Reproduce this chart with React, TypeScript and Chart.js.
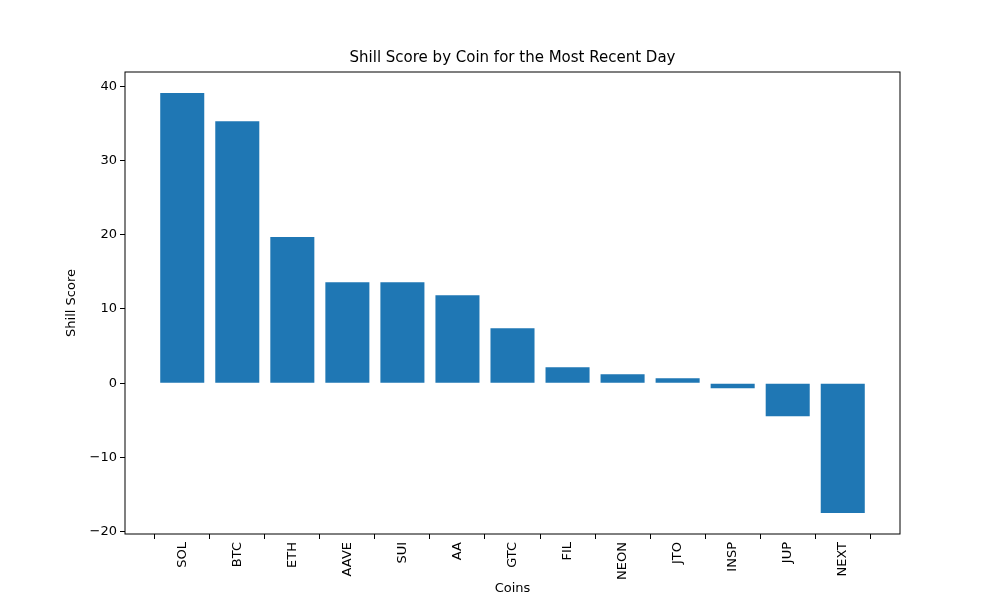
import { useEffect, useRef } from "react"
import { Chart, registerables } from "chart.js"

Chart.register(...registerables)

const coins = ["SOL", "BTC", "ETH", "AAVE", "SUI", "AA", "GTC", "FIL", "NEON", "JTO", "INSP", "JUP", "NEXT"]
const scores = [39.1, 35.3, 19.7, 13.6, 13.6, 11.85, 7.4, 2.15, 1.2, 0.65, -0.7, -4.45, -17.5]
const yTicks = [-20, -10, 0, 10, 20, 30, 40]

const FONT = "'DejaVu Sans', sans-serif"

const frame = {
  id: "frame",
  afterDraw(chart: any) {
    const { ctx, chartArea: a } = chart
    ctx.save()
    ctx.strokeStyle = "#000"
    ctx.lineWidth = 1
    ctx.strokeRect(a.left, a.top, a.right - a.left, a.bottom - a.top)
    ctx.fillStyle = "#000"
    ctx.font = `15px ${FONT}`
    ctx.textAlign = "center"
    ctx.textBaseline = "bottom"
    ctx.fillText("Shill Score by Coin for the Most Recent Day", (a.left + a.right) / 2, a.top - 6)
    ctx.font = `13px ${FONT}`
    ctx.translate(72, (a.top + a.bottom) / 2)
    ctx.rotate(-Math.PI / 2)
    ctx.textBaseline = "middle"
    ctx.fillText("Shill Score", 0, 0)
    ctx.restore()
  },
}

export default function App() {
  const ref = useRef<HTMLCanvasElement>(null)
  useEffect(() => {
    if (!ref.current) return
    const chart = new Chart(ref.current, {
      type: "bar",
      data: {
        datasets: [
          {
            data: scores.map((v, i) => ({ x: i, y: v })),
            backgroundColor: "#1f77b4",
            borderWidth: 0,
            barPercentage: 0.8,
            categoryPercentage: 1,
          },
        ],
      },
      options: {
        animation: false,
        responsive: false,
        layout: { padding: { top: 72, right: 100, left: 0, bottom: 0 } },
        plugins: { legend: { display: false }, tooltip: { enabled: false } },
        scales: {
          x: {
            type: "linear",
            offset: false,
            min: -1.04,
            max: 13.04,
            afterBuildTicks: (s: any) => {
              s.ticks = coins.map((_, i) => ({ value: i }))
            },
            afterFit: (s: any) => {
              s.height = 66
            },
            grid: { drawOnChartArea: false, drawTicks: true, tickLength: 5, color: "#000" },
            border: { display: false },
            ticks: {
              color: "#000",
              font: { family: FONT, size: 13 },
              maxRotation: 90,
              minRotation: 90,
              autoSkip: false,
              callback: (v: any) => coins[v] ?? "",
            },
            title: { display: true, text: "Coins", color: "#000", font: { family: FONT, size: 13 }, padding: { top: 4 } },
          },
          y: {
            min: -20.33,
            max: 41.93,
            afterBuildTicks: (s: any) => {
              s.ticks = yTicks.map((v) => ({ value: v }))
            },
            afterFit: (s: any) => {
              s.width = 125
            },
            grid: { drawOnChartArea: false, drawTicks: true, tickLength: 5, color: "#000" },
            border: { display: false },
            ticks: {
              color: "#000",
              font: { family: FONT, size: 13 },
              callback: (v: any) => String(v).replace("-", "\u2212"),
            },
          },
        },
      },
      plugins: [frame],
    } as any)
    return () => chart.destroy()
  }, [])
  return (
    <div style={{ position: "absolute", left: 0, top: 0, width: 1000, height: 600, background: "#fff" }}>
      <canvas ref={ref} width={1000} height={600} />
    </div>
  )
}
